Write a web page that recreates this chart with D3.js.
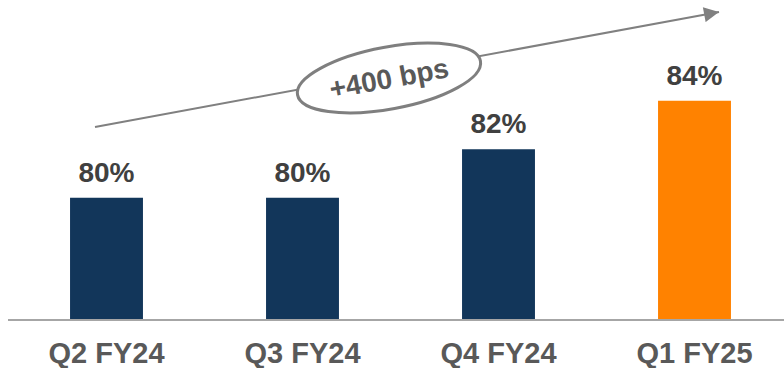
<!DOCTYPE html>
<html>
<head>
<meta charset="utf-8">
<script src="https://cdn.jsdelivr.net/npm/d3@7"></script>
<style>
  body { margin: 0; background: #fff; }
  svg { display: block; font-family: "Liberation Sans", Arial, sans-serif; }
</style>
</head>
<body>
<script>
// chart data
const quarters = ["Q2 FY24", "Q3 FY24", "Q4 FY24", "Q1 FY25"];
const margins = [80, 80, 82, 84];
const valueLabels = ["80%", "80%", "82%", "84%"];
const barColors = ["#12365a", "#12365a", "#12365a", "#ff8200"];
const trendLabel = "+400 bps";

const width = 784, height = 368;

const svg = d3.select("body").append("svg")
  .attr("width", width)
  .attr("height", height);

const x = d3.scaleBand()
  .domain(quarters)
  .range([8.5, 792.5])
  .paddingInner(0.628)
  .paddingOuter(0.314);

const y = d3.scaleLinear()
  .domain([75, 85])
  .range([319, 76.5]);

// bars
svg.selectAll("rect.bar")
  .data(quarters)
  .enter().append("rect")
  .attr("class", "bar")
  .attr("x", d => x(d))
  .attr("y", (d, i) => y(margins[i]))
  .attr("width", x.bandwidth())
  .attr("height", (d, i) => y(75) - y(margins[i]))
  .attr("fill", (d, i) => barColors[i]);

// baseline
svg.append("line")
  .attr("x1", 8).attr("x2", width)
  .attr("y1", y(75) + 1).attr("y2", y(75) + 1)
  .attr("stroke", "#a6a6a6")
  .attr("stroke-width", 2);

// value labels
svg.selectAll("text.val")
  .data(quarters)
  .enter().append("text")
  .attr("class", "val")
  .attr("x", d => x(d) + x.bandwidth() / 2)
  .attr("y", (d, i) => y(margins[i]) - 16)
  .attr("text-anchor", "middle")
  .attr("font-size", 28)
  .attr("font-weight", "bold")
  .attr("fill", "#404040")
  .text((d, i) => valueLabels[i]);

// category labels
svg.selectAll("text.cat")
  .data(quarters)
  .enter().append("text")
  .attr("class", "cat")
  .attr("x", d => x(d) + x.bandwidth() / 2)
  .attr("y", 363)
  .attr("text-anchor", "middle")
  .attr("font-size", 29)
  .attr("font-weight", "bold")
  .attr("fill", "#595959")
  .text(d => d);

// trend arrow
svg.append("defs").append("marker")
  .attr("id", "arrowhead")
  .attr("viewBox", "0 0 10 10")
  .attr("refX", 10).attr("refY", 5)
  .attr("markerWidth", 17).attr("markerHeight", 15)
  .attr("markerUnits", "userSpaceOnUse")
  .attr("orient", "auto")
  .append("path")
  .attr("d", "M0,0 L10,5 L0,10 Z")
  .attr("fill", "#808080");

const a0 = [95, 127], a1 = [719, 12];
svg.append("line")
  .attr("x1", a0[0]).attr("y1", a0[1])
  .attr("x2", a1[0]).attr("y2", a1[1])
  .attr("stroke", "#808080")
  .attr("stroke-width", 2)
  .attr("marker-end", "url(#arrowhead)");

const angle = Math.atan2(a1[1] - a0[1], a1[0] - a0[0]) * 180 / Math.PI;
const badge = svg.append("g")
  .attr("transform", `translate(389,78) rotate(${angle})`);

badge.append("ellipse")
  .attr("rx", 93).attr("ry", 31)
  .attr("fill", "#fff")
  .attr("stroke", "#7f7f7f")
  .attr("stroke-width", 3);

badge.append("text")
  .attr("y", 10)
  .attr("text-anchor", "middle")
  .attr("font-size", 28)
  .attr("font-weight", "bold")
  .attr("fill", "#595959")
  .text(trendLabel);
</script>
</body>
</html>
